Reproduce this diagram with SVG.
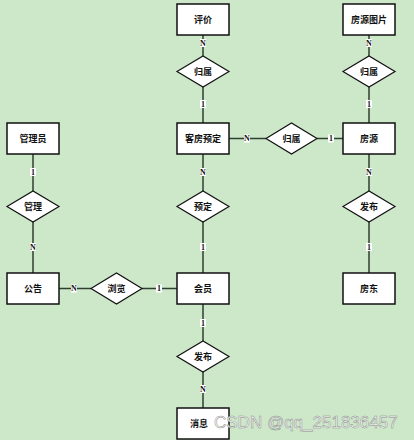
<svg xmlns="http://www.w3.org/2000/svg" width="414" height="440" viewBox="0 0 414 440">
<style>
.bg{fill:#cde7c9}
.ent{fill:#fff;stroke:#111;stroke-width:1.5}
.rel{fill:#fff;stroke:#111;stroke-width:1.2}
.t{font-family:"Noto Sans CJK SC","Noto Sans",sans-serif;font-size:9px;font-weight:bold;fill:#111;text-anchor:middle;dominant-baseline:central}
.ln{stroke:#2f3f2f;stroke-width:1.5;fill:none}
.lb{fill:#fff}
.lt{font-family:"Liberation Serif",serif;font-size:8px;font-weight:bold;fill:#111;text-anchor:middle;dominant-baseline:central}
.wm{font-family:"Liberation Sans",Arial,sans-serif;font-size:17px;fill:#fff;fill-opacity:0.9;stroke:#8a8a8a;stroke-width:0.5}
</style>
<rect class="bg" x="0" y="0" width="414" height="440"/>
<g id="connectors">
<line class="ln" x1="203" y1="35" x2="203" y2="56"/>
<line class="ln" x1="203" y1="87" x2="203" y2="123"/>
<line class="ln" x1="369" y1="35" x2="369" y2="56"/>
<line class="ln" x1="369" y1="87" x2="369" y2="123"/>
<line class="ln" x1="229" y1="138.5" x2="266" y2="138.5"/>
<line class="ln" x1="317" y1="138.5" x2="343" y2="138.5"/>
<line class="ln" x1="203" y1="154" x2="203" y2="191"/>
<line class="ln" x1="203" y1="222" x2="203" y2="273"/>
<line class="ln" x1="369" y1="154" x2="369" y2="191"/>
<line class="ln" x1="369" y1="222" x2="369" y2="273"/>
<line class="ln" x1="33" y1="154" x2="33" y2="191"/>
<line class="ln" x1="33" y1="222" x2="33" y2="273"/>
<line class="ln" x1="59" y1="288.5" x2="91" y2="288.5"/>
<line class="ln" x1="142" y1="288.5" x2="178" y2="288.5"/>
<line class="ln" x1="203" y1="304" x2="203" y2="341"/>
<line class="ln" x1="203" y1="372" x2="203" y2="408"/>
<g id="labels">
<rect class="lb" x="200" y="39" width="6" height="8"/><text class="lt" x="203" y="43">N</text>
<rect class="lb" x="200" y="100" width="6" height="8"/><text class="lt" x="203" y="104">1</text>
<rect class="lb" x="366" y="39" width="6" height="8"/><text class="lt" x="369" y="43">N</text>
<rect class="lb" x="366" y="100" width="6" height="8"/><text class="lt" x="369" y="104">1</text>
<rect class="lb" x="244" y="134.5" width="6" height="8"/><text class="lt" x="247" y="138.5">N</text>
<rect class="lb" x="328" y="134.5" width="6" height="8"/><text class="lt" x="331" y="138.5">1</text>
<rect class="lb" x="200" y="168" width="6" height="8"/><text class="lt" x="203" y="172">N</text>
<rect class="lb" x="200" y="243" width="6" height="8"/><text class="lt" x="203" y="247">1</text>
<rect class="lb" x="366" y="168" width="6" height="8"/><text class="lt" x="369" y="172">N</text>
<rect class="lb" x="366" y="243" width="6" height="8"/><text class="lt" x="369" y="247">1</text>
<rect class="lb" x="30" y="168" width="6" height="8"/><text class="lt" x="33" y="172">1</text>
<rect class="lb" x="30" y="243" width="6" height="8"/><text class="lt" x="33" y="247">N</text>
<rect class="lb" x="71" y="284.5" width="6" height="8"/><text class="lt" x="74" y="288.5">N</text>
<rect class="lb" x="156" y="284.5" width="6" height="8"/><text class="lt" x="159" y="288.5">1</text>
<rect class="lb" x="200" y="319" width="6" height="8"/><text class="lt" x="203" y="323">1</text>
<rect class="lb" x="200" y="385" width="6" height="8"/><text class="lt" x="203" y="389">N</text>
</g>
</g>
<g id="pingjia"><rect class="ent" x="177" y="4" width="52" height="31"/><text class="t" x="203" y="19.5">评价</text></g>
<g id="fangyuantupian"><rect class="ent" x="343" y="4" width="52" height="31"/><text class="t" x="369" y="19.5">房源图片</text></g>
<g id="guishu1"><polygon class="rel" points="177,71.5 203,56 229,71.5 203,87"/><text class="t" x="203" y="71.5">归属</text></g>
<g id="guishu2"><polygon class="rel" points="343,71.5 369,56 395,71.5 369,87"/><text class="t" x="369" y="71.5">归属</text></g>
<g id="kefangyuding"><rect class="ent" x="177" y="123" width="52" height="31"/><text class="t" x="203" y="138.5">客房预定</text></g>
<g id="guishu3"><polygon class="rel" points="266,138.5 291.5,123 317,138.5 291.5,154"/><text class="t" x="291.5" y="138.5">归属</text></g>
<g id="fangyuan"><rect class="ent" x="343" y="123" width="52" height="31"/><text class="t" x="369" y="138.5">房源</text></g>
<g id="guanliyuan"><rect class="ent" x="7" y="123" width="52" height="31"/><text class="t" x="33" y="138.5">管理员</text></g>
<g id="guanli"><polygon class="rel" points="7,206.5 33,191 59,206.5 33,222"/><text class="t" x="33" y="206.5">管理</text></g>
<g id="yuding"><polygon class="rel" points="177,206.5 203,191 229,206.5 203,222"/><text class="t" x="203" y="206.5">预定</text></g>
<g id="fabu1"><polygon class="rel" points="343,206.5 369,191 395,206.5 369,222"/><text class="t" x="369" y="206.5">发布</text></g>
<g id="gonggao"><rect class="ent" x="7" y="273" width="52" height="31"/><text class="t" x="33" y="288.5">公告</text></g>
<g id="liulan"><polygon class="rel" points="91,288.5 116.5,273 142,288.5 116.5,304"/><text class="t" x="116.5" y="288.5">浏览</text></g>
<g id="huiyuan"><rect class="ent" x="177" y="273" width="52" height="31"/><text class="t" x="203" y="288.5">会员</text></g>
<g id="fangdong"><rect class="ent" x="343" y="273" width="52" height="31"/><text class="t" x="369" y="288.5">房东</text></g>
<g id="fabu2"><polygon class="rel" points="177,356.5 203,341 229,356.5 203,372"/><text class="t" x="203" y="356.5">发布</text></g>
<g id="xiaoxi"><rect class="ent" x="177" y="408" width="52" height="31"/><text class="t" x="199" y="423.5">消息</text></g>
<text class="wm" x="214" y="428">CSDN @qq_251836457</text>
</svg>
